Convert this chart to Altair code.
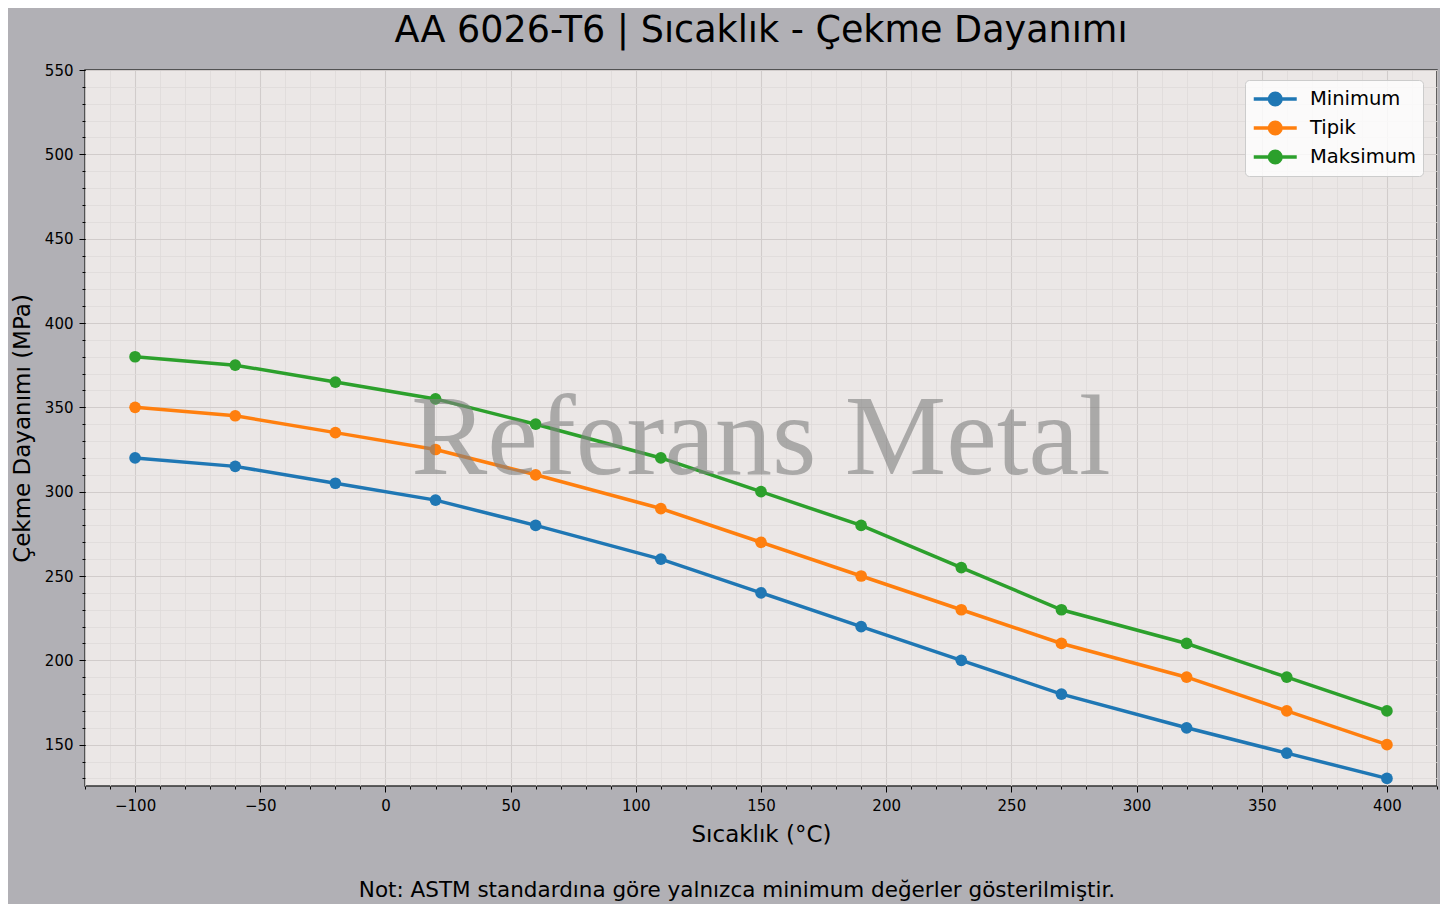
import altair as alt
import pandas as pd

# temperature points (°C) and tensile strength (MPa) per series
temps = [-100, -60, -20, 20, 60, 110, 150, 190, 230, 270, 320, 360, 400]
minimum = [320, 315, 305, 295, 280, 260, 240, 220, 200, 180, 160, 145, 130]
tipik = [350, 345, 335, 325, 310, 290, 270, 250, 230, 210, 190, 170, 150]
maksimum = [380, 375, 365, 355, 340, 320, 300, 280, 255, 230, 210, 190, 170]

series_names = ['Minimum', 'Tipik', 'Maksimum']
series_colors = ['#1f77b4', '#ff7f0e', '#2ca02c']

x_major = list(range(-100, 401, 50))
x_minor = list(range(-120, 421, 10))
y_major = list(range(150, 551, 50))
y_minor = list(range(130, 551, 10))

rows = []
for name, vals in zip(series_names, [minimum, tipik, maksimum]):
    for t, v in zip(temps, vals):
        rows.append({'temp': t, 'value': v, 'series': name})
df = pd.DataFrame(rows)

W, H = 1352, 716
FONT = 'DejaVu Sans'

xs = alt.Scale(domain=[-120, 420], nice=False, zero=False)
ys = alt.Scale(domain=[125.5, 550], nice=False, zero=False)

# legend symbol: short line with a dot in the middle (matplotlib style)
legend_symbol = 'M-1,0L3,0M0.46,0A0.54,0.54,0,1,0,1.54,0A0.54,0.54,0,1,0,0.46,0Z'

color = alt.Color(
    'series:N',
    scale=alt.Scale(domain=series_names, range=series_colors),
    sort=series_names,
    legend=alt.Legend(
        title=None, orient='none', legendX=1160, legendY=10,
        fillColor='rgba(255,255,255,0.8)', strokeColor='#cccccc',
        cornerRadius=4, padding=7,
        labelFont=FONT, labelFontSize=19.5, labelColor='#000000', labelOffset=33,
        symbolType=legend_symbol,
        symbolSize=462, symbolStrokeWidth=3.5, symbolOpacity=1,
        clipHeight=24, rowPadding=5,
    ),
)

# minor grid + minor ticks
minor = alt.Chart(df).mark_line(opacity=0).encode(
    x=alt.X('temp:Q', scale=xs, axis=alt.Axis(
        values=x_minor, orient='bottom', grid=True, gridColor='#dedad9',
        gridWidth=0.8, labels=False, tickSize=3, tickColor='#000000',
        domain=False, title=None)),
    y=alt.Y('value:Q', scale=ys, axis=alt.Axis(
        values=y_minor, orient='left', grid=True, gridColor='#dedad9',
        gridWidth=0.8, labels=False, tickSize=3, tickColor='#000000',
        domain=False, title=None)),
)

lines = alt.Chart(df).mark_line(strokeWidth=3.5).encode(
    x=alt.X('temp:Q', scale=xs, axis=alt.Axis(
        values=x_major, orient='bottom', grid=True, gridColor='#d1cccb',
        gridWidth=1.1, tickSize=6, tickColor='#000000', domain=False,
        labelFont=FONT, labelFontSize=15, labelColor='#000000', labelPadding=6,
        title='Sıcaklık (°C)', titleFont=FONT, titleFontSize=23,
        titleFontWeight='normal', titleColor='#000000', titlePadding=10)),
    y=alt.Y('value:Q', scale=ys, axis=alt.Axis(
        values=y_major, orient='left', grid=True, gridColor='#d1cccb',
        gridWidth=1.1, tickSize=6, tickColor='#000000', domain=False,
        labelFont=FONT, labelFontSize=15, labelColor='#000000', labelPadding=6,
        title='Çekme Dayanımı (MPa)', titleFont=FONT, titleFontSize=23,
        titleFontWeight='normal', titleColor='#000000', titlePadding=10)),
    color=color,
    detail='series:N',
)

points = alt.Chart(df).mark_point(filled=True, size=137, opacity=1).encode(
    x=alt.X('temp:Q', scale=xs, axis=None),
    y=alt.Y('value:Q', scale=ys, axis=None),
    color=color,
)

watermark = alt.Chart(pd.DataFrame({'t': ['Referans Metal']})).mark_text(
    font='Liberation Serif', fontSize=114, color='#808080', opacity=0.6,
    align='center', baseline='middle',
).encode(x=alt.value(W / 2), y=alt.value(H / 2 + 12), text='t:N')

note = alt.Chart(pd.DataFrame({'t': ['Not: ASTM standardına göre yalnızca minimum değerler gösterilmiştir.']})).mark_text(
    font=FONT, fontSize=21.5, color='#000000', align='center', baseline='middle',
).encode(x=alt.value(652), y=alt.value(821), text='t:N')

chart = alt.layer(minor, lines, points, watermark, note).resolve_scale(
    x='shared', y='shared'
).resolve_axis(
    x='independent', y='independent'
).properties(
    width=W, height=H,
    title=alt.TitleParams('AA 6026-T6 | Sıcaklık - Çekme Dayanımı', font=FONT,
                          fontSize=36.5, fontWeight='normal', color='#000000',
                          anchor='middle', offset=14),
    autosize=alt.AutoSizeParams(type='none'),
    padding={'left': 77, 'top': 62, 'right': 3, 'bottom': 118},
    background='#b1b0b5',
).configure_view(
    fill='#ebe7e6', stroke='#333333', strokeWidth=1.5,
)

chart.save("out.html", embed_options={"renderer": "svg", "actions": False})
